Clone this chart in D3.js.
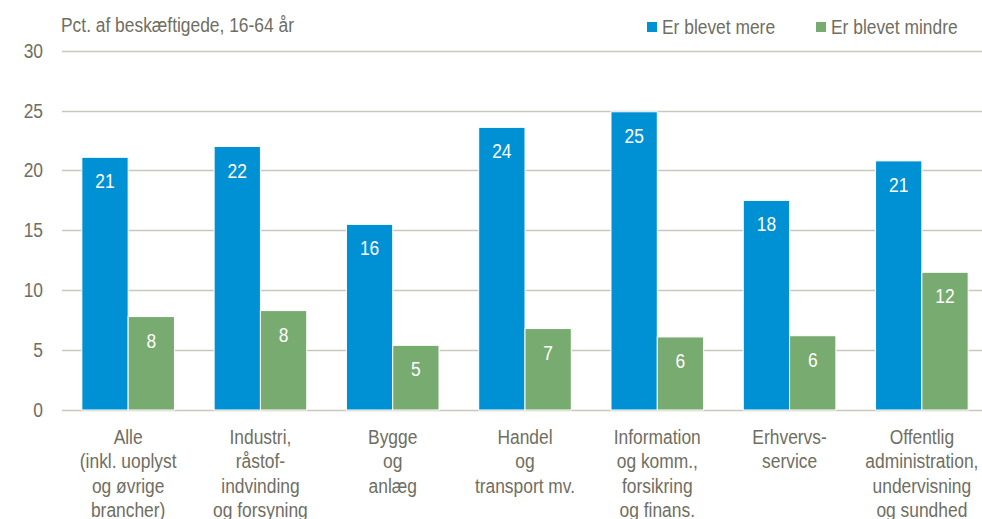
<!DOCTYPE html>
<html>
<head>
<meta charset="utf-8">
<script src="https://cdn.jsdelivr.net/npm/d3@7"></script>
<style>
  body { margin: 0; background: #fff; }
  svg text { font-family: "Liberation Sans Narrow", "Arial Narrow", "Liberation Sans", sans-serif; font-size: 20px; }
</style>
</head>
<body>
<svg width="982" height="519"></svg>
<script>
// DATA

var categories = [
  ["Alle", "(inkl. uoplyst", "og øvrige", "brancher)"],
  ["Industri,", "råstof-", "indvinding", "og forsyning"],
  ["Bygge", "og", "anlæg"],
  ["Handel", "og", "transport mv."],
  ["Information", "og komm.,", "forsikring", "og finans."],
  ["Erhvervs-", "service"],
  ["Offentlig", "administration,", "undervisning", "og sundhed"]
];
var seriesNames = ["Er blevet mere", "Er blevet mindre"];
var mere = [21.1, 22.0, 15.5, 23.6, 24.9, 17.5, 20.8];
var mindre = [7.8, 8.3, 5.4, 6.8, 6.1, 6.2, 11.5];
var yTicks = [0, 5, 10, 15, 20, 25, 30];
var yTitle = "Pct. af beskæftigede, 16-64 år";

// SETUP

var svg = d3.select("svg"),
    textColor = "#6f6e62",
    gridColor = "#c9c8bd",
    narrow = 0.87, // squeeze text to look like a narrow font
    colors = d3.scaleOrdinal().domain(seriesNames).range(["#0091d5", "#78ab6f"]);

function place(px, py) {
  return "translate(" + px + "," + py + ") scale(" + narrow + ",1)";
}

var x = d3.scaleBand()
  .domain(d3.range(categories.length))
  .range([62, 988])
  .paddingInner(0.3)
  .paddingOuter(0.15);

var xInner = d3.scaleBand()
  .domain(seriesNames)
  .range([0, x.bandwidth()]);

var y = d3.scaleLinear().domain([0, 30]).range([410, 50.7]);

var rows = categories.map(function (c, i) {
  return { i: i, lines: c, values: [
    { key: seriesNames[0], v: mere[i] },
    { key: seriesNames[1], v: mindre[i] }
  ] };
});

// gridlines
svg.append("g")
  .selectAll("line")
  .data(yTicks)
  .enter().append("line")
    .attr("x1", 62)
    .attr("x2", 982)
    .attr("y1", function (d) { return Math.round(y(d)) + 0.5; })
    .attr("y2", function (d) { return Math.round(y(d)) + 0.5; })
    .attr("stroke", gridColor)
    .attr("stroke-width", 1.5);

// y axis labels
svg.append("g")
  .selectAll("text")
  .data(yTicks)
  .enter().append("text")
    .attr("transform", function (d) { return place(43, y(d)); })
    .attr("dy", "0.35em")
    .attr("text-anchor", "end")
    .style("fill", textColor)
    .text(function (d) { return d; });

svg.append("text")
  .attr("transform", place(61, 32))
  .style("fill", textColor)
  .text(yTitle);

// BARS

var groups = svg.selectAll(".cat")
  .data(rows)
  .enter().append("g")
    .attr("class", "cat")
    .attr("transform", function (d) { return "translate(" + x(d.i) + ",0)"; });

groups.selectAll("rect")
  .data(function (d) { return d.values; })
  .enter().append("rect")
    .attr("x", function (d) { return xInner(d.key); })
    .attr("y", function (d) { return y(d.v); })
    .attr("width", xInner.bandwidth())
    .attr("height", function (d) { return y(0) - y(d.v); })
    .attr("fill", function (d) { return colors(d.key); })
    .attr("stroke", "#fff")
    .attr("stroke-width", 1);

groups.selectAll(".val")
  .data(function (d) { return d.values; })
  .enter().append("text")
    .attr("class", "val")
    .attr("transform", function (d) {
      return place(xInner(d.key) + xInner.bandwidth() / 2, y(d.v) + 31);
    })
    .attr("text-anchor", "middle")
    .style("fill", "#fff")
    .text(function (d) { return Math.round(d.v); });

// category labels
groups.append("text")
  .attr("transform", place(x.bandwidth() / 2, 444))
  .attr("text-anchor", "middle")
  .style("fill", textColor)
  .selectAll("tspan")
  .data(function (d) { return d.lines; })
  .enter().append("tspan")
    .attr("x", 0)
    .attr("y", function (d, j) { return j * 24.5; })
    .text(function (d) { return d; });

// LEGEND

var legendX = [647, 816];
var legend = svg.selectAll(".legend")
  .data(seriesNames)
  .enter().append("g")
    .attr("class", "legend")
    .attr("transform", function (d, i) { return "translate(" + legendX[i] + ",22)"; });

legend.append("rect")
  .attr("width", 10)
  .attr("height", 10)
  .attr("fill", function (d) { return colors(d); });

legend.append("text")
  .attr("transform", place(15, 5))
  .attr("dy", "0.35em")
  .style("fill", textColor)
  .text(function (d) { return d; });
</script>
</body>
</html>
